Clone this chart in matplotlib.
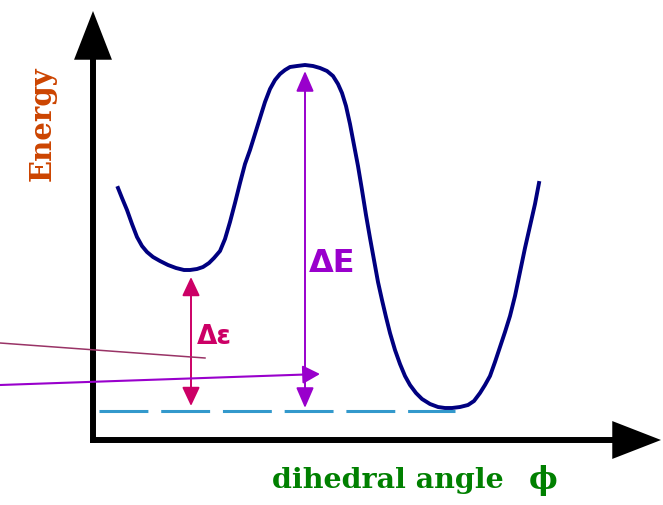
import matplotlib
matplotlib.use("Agg")
import matplotlib.pyplot as plt
from matplotlib.patches import FancyArrowPatch

# energy profile (pixel-like units, y grows downward)
curve_x = [118, 122, 127, 132, 137, 142, 147, 153, 160, 168, 176, 184, 190, 197, 203, 209,
           214, 220, 225, 230, 235, 240, 245, 250, 255, 260, 265, 270, 275, 280, 285, 290,
           297, 305, 313, 320, 327, 333, 338, 342, 346, 350, 354, 358, 362, 366, 370, 374,
           378, 382, 386, 390, 395, 400, 405, 410, 416, 422, 430, 438, 445, 452, 460, 468,
           474, 480, 485, 490, 495, 500, 505, 510, 515, 520, 525, 530, 535, 539]
curve_y = [188, 198, 210, 224, 237, 246, 252, 257, 261, 265, 268, 270, 270, 269, 267, 263,
           258, 251, 239, 222, 203, 183, 164, 150, 134, 118, 102, 89, 80, 74, 70, 67,
           66, 65, 66, 68, 71, 76, 84, 93, 106, 124, 145, 166, 190, 215, 238, 260,
           282, 300, 317, 333, 350, 364, 376, 385, 393, 399, 404, 407, 408, 408, 407, 405,
           401, 393, 385, 376, 362, 347, 332, 316, 296, 272, 248, 226, 204, 183]

baseline_y = 411
baseline_x = [99, 455]

small_gap_x = 191
small_gap_y = [277, 406]
big_gap_x = 305
big_gap_y = [71, 408]

pointer1 = [(0, 343), (205, 358)]
pointer2 = [(0, 385), (320, 374)]

axis_origin = (93, 440)
x_axis_end = 661
y_axis_end = 11

fig = plt.figure(figsize=(6.63, 5.05), dpi=100)
ax = fig.add_axes([0, 0, 1, 1])
ax.set_xlim(0, 663)
ax.set_ylim(505, 0)
ax.axis("off")

# axes with big arrow heads
for end in [(x_axis_end, axis_origin[1]), (axis_origin[0], y_axis_end)]:
    start = (axis_origin[0] - 3, axis_origin[1]) if end[1] == axis_origin[1] else (axis_origin[0], axis_origin[1] + 3)
    ax.add_patch(FancyArrowPatch(start, end, arrowstyle="-|>,head_length=27,head_width=10.5",
                                 mutation_scale=1, lw=4.3, color="black",
                                 shrinkA=0, shrinkB=0, joinstyle="miter", capstyle="butt"))

# dashed reference level
ax.plot(baseline_x, [baseline_y, baseline_y], color="#3399cc", lw=2.2,
        dashes=(16, 4.2), solid_capstyle="butt", dash_capstyle="butt")

# the curve
ax.plot(curve_x, curve_y, color="#000080", lw=2.8, solid_joinstyle="round")

# gap arrows
ax.add_patch(FancyArrowPatch((small_gap_x, small_gap_y[0]), (small_gap_x, small_gap_y[1]),
                             arrowstyle="<|-|>,head_length=11.5,head_width=5.4", mutation_scale=1,
                             lw=1.4, color="#cc0066", shrinkA=0, shrinkB=0))
ax.add_patch(FancyArrowPatch((big_gap_x, big_gap_y[0]), (big_gap_x, big_gap_y[1]),
                             arrowstyle="<|-|>,head_length=12.5,head_width=5.4", mutation_scale=1,
                             lw=1.4, color="#9900cc", shrinkA=0, shrinkB=0))

# pointer lines from the left
ax.plot([p[0] for p in pointer1], [p[1] for p in pointer1], color="#993366", lw=1.1)
ax.add_patch(FancyArrowPatch(pointer2[0], pointer2[1],
                             arrowstyle="-|>,head_length=10.5,head_width=5.6", mutation_scale=1,
                             lw=1.5, color="#9900cc", shrinkA=0, shrinkB=0))

# labels
ax.text(197, 337, "Δε", color="#cc0066", fontsize=19, fontweight="bold",
        family="DejaVu Sans", ha="left", va="center")
ax.text(309, 263, "ΔE", color="#9900cc", fontsize=23, fontweight="bold",
        family="DejaVu Sans", ha="left", va="center")
ax.text(42, 124, "Energy", color="#cc4400", fontsize=21, fontweight="bold",
        family="DejaVu Serif", rotation=90, ha="center", va="center")
ax.text(388, 481, "dihedral angle", color="#008000", fontsize=20.5, fontweight="bold",
        family="DejaVu Serif", ha="center", va="center")
ax.text(543, 481, "ϕ", color="#008000", fontsize=22, fontweight="bold",
        family="DejaVu Serif", ha="center", va="center")

fig.savefig("out.png", dpi=100)
